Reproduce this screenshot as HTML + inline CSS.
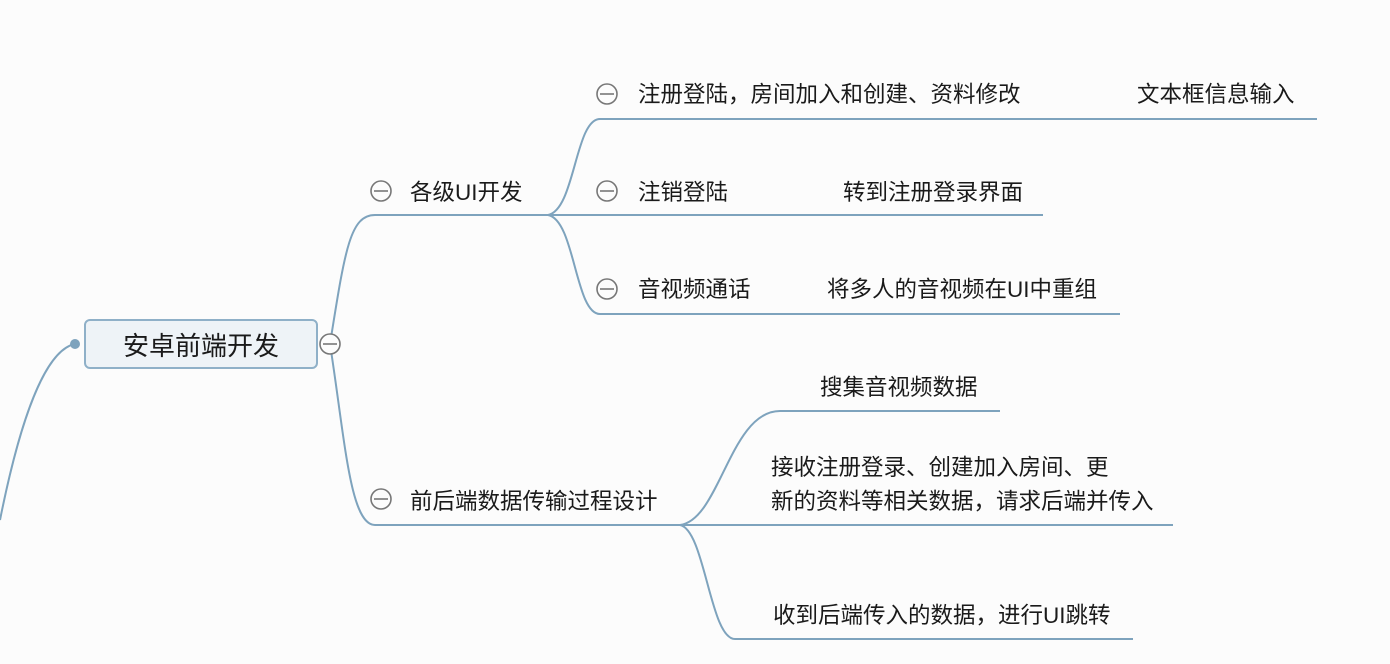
<!DOCTYPE html>
<html><head><meta charset="utf-8"><style>
html,body{margin:0;padding:0;background:#fcfcfc;}
svg{display:block;}
text{font-family:"Liberation Sans","Noto Sans CJK SC",sans-serif;fill:#1a1a1a;}
</style></head><body>
<svg width="1390" height="664" viewBox="0 0 1390 664">
<g fill="none" stroke="#7ea3bd" stroke-width="2">
<path d="M0,520 C20,420 45,350 75,344"/>
<path d="M330,344 C345,250 350,215 375,215 L548,215"/>
<path d="M330,344 C345,440 350,525 375,525 L680,525"/>
<path d="M548,215 C575,210 575,119 600,119 L1317,119"/>
<path d="M548,215 L1043,215"/>
<path d="M548,215 C575,220 575,314 600,314 L1120,314"/>
<path d="M680,525 C720,520 730,411 780,411 L1000,411"/>
<path d="M680,525 L1173,525"/>
<path d="M680,525 C705,530 710,639 735,639 L1133,639"/>
</g>
<circle cx="75" cy="344" r="5" fill="#7ea3bd"/>
<rect x="85" y="320" width="232" height="48" rx="5" fill="#eef3f7" stroke="#8fb0c8" stroke-width="2"/>
<text x="201" y="355" font-size="26" text-anchor="middle">安卓前端开发</text>
<g fill="#fcfcfc" stroke="#777" stroke-width="1.6">
<circle cx="330" cy="344" r="10"/>
<circle cx="381" cy="191" r="10"/>
<circle cx="381" cy="499" r="10"/>
<circle cx="607" cy="94" r="10"/>
<circle cx="607" cy="191" r="10"/>
<circle cx="607" cy="289" r="10"/>
</g>
<g stroke="#777" stroke-width="1.6">
<line x1="323" y1="344" x2="337" y2="344"/>
<line x1="374" y1="191" x2="388" y2="191"/>
<line x1="374" y1="499" x2="388" y2="499"/>
<line x1="600" y1="94" x2="614" y2="94"/>
<line x1="600" y1="191" x2="614" y2="191"/>
<line x1="600" y1="289" x2="614" y2="289"/>
</g>
<g font-size="22.5">
<text x="410" y="200">各级UI开发</text>
<text x="410" y="509">前后端数据传输过程设计</text>
<text x="638" y="102">注册登陆，房间加入和创建、资料修改</text>
<text x="1137" y="102">文本框信息输入</text>
<text x="638" y="200">注销登陆</text>
<text x="843" y="200">转到注册登录界面</text>
<text x="638" y="297">音视频通话</text>
<text x="827" y="297">将多人的音视频在UI中重组</text>
<text x="820" y="395">搜集音视频数据</text>
<text x="771" y="475">接收注册登录、创建加入房间、更</text>
<text x="771" y="509">新的资料等相关数据，请求后端并传入</text>
<text x="773" y="623">收到后端传入的数据，进行UI跳转</text>
</g>
</svg>
</body></html>
